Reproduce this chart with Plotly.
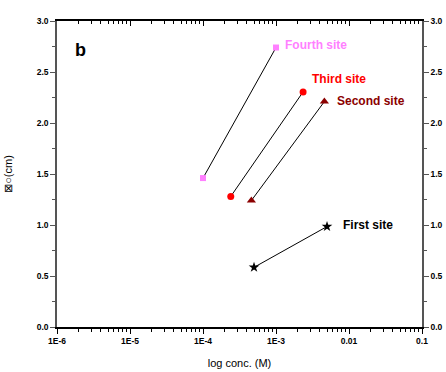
import math
import plotly.graph_objects as go

sites = ["First site", "Second site", "Third site", "Fourth site"]
conc = [[5e-4, 5e-3], [4.6e-4, 4.6e-3], [2.4e-4, 2.35e-3], [1e-4, 1e-3]]
values = [[0.585, 0.985], [1.24, 2.21], [1.28, 2.305], [1.46, 2.74]]
colors = ["#000000", "#8B0000", "#FF0000", "#FF80FF"]
symbols = ["star", "triangle-up", "circle", "square"]
sizes = [8, 8, 7, 6]
x_ticks = [1e-6, 1e-5, 1e-4, 1e-3, 1e-2, 1e-1]
x_ticktext = ["1E-6", "1E-5", "1E-4", "1E-3", "0.01", "0.1"]
y_ticks = [0.0, 0.5, 1.0, 1.5, 2.0, 2.5, 3.0]
y_ticktext = ["0.0", "0.5", "1.0", "1.5", "2.0", "2.5", "3.0"]

label_shift = [(14, 2), (11, 1), (7, 13), (7, 3)]

fig = go.Figure()
for i, s in enumerate(sites):
    fig.add_trace(go.Scatter(
        x=conc[i], y=values[i], mode="lines+markers",
        line=dict(color="black", width=1),
        marker=dict(symbol=symbols[i], size=sizes[i], color=colors[i]),
        showlegend=False, cliponaxis=False))
    dx, dy = label_shift[i]
    fig.add_annotation(x=math.log10(conc[i][1]), y=values[i][1], text="<b>%s</b>" % s,
                       showarrow=False, xanchor="left", yanchor="middle", xshift=dx, yshift=dy,
                       font=dict(family="Liberation Sans, Arial", size=12, color=colors[i]))

fig.add_trace(go.Scatter(x=[1e-6], y=[0], xaxis="x2", yaxis="y2", mode="markers",
                         marker=dict(opacity=0), showlegend=False, hoverinfo="skip"))

bold = lambda lst: ["<b>%s</b>" % t for t in lst]
tf = dict(family="Liberation Sans, Arial", size=8.5, color="black")
fig.update_layout(
    width=446, height=372,
    margin=dict(l=57, r=24, t=21, b=45, autoexpand=False),
    plot_bgcolor="white", paper_bgcolor="white",
    font=dict(family="Liberation Sans, Arial", color="black"),
    xaxis=dict(type="log", range=[-6, -1], tickvals=x_ticks, ticktext=bold(x_ticktext),
               ticks="outside", ticklen=5, tickwidth=1, tickcolor="black", automargin=False,
               showline=True, linecolor="black", linewidth=1.5, showgrid=False, zeroline=False,
               tickfont=tf,
               minor=dict(ticks="outside", ticklen=3, tickcolor="black", dtick="D1", showgrid=False),
               title=dict(text="log conc. (M)", font=dict(size=11, color="black"), standoff=14)),
    yaxis=dict(range=[0, 3], tickvals=y_ticks, ticktext=bold(y_ticktext), automargin=False,
               ticks="outside", ticklen=5, tickcolor="#555", linecolor="#555", linewidth=1.5,
               showline=True, showgrid=False, zeroline=False, tickfont=tf,
               minor=dict(ticks="outside", ticklen=3, dtick=0.25, tickcolor="#555", showgrid=False),
               title=dict(text="⊠○(cm)", font=dict(size=11, color="black"), standoff=22)),
    xaxis2=dict(type="log", range=[-6, -1], overlaying="x", side="top", anchor="y2",
                tickvals=x_ticks, ticks="inside", ticklen=5, tickcolor="black", automargin=False,
                showticklabels=False, showline=True, linecolor="black", linewidth=1.5,
                showgrid=False, zeroline=False,
                minor=dict(ticks="inside", ticklen=3, tickcolor="black", dtick="D1", showgrid=False)),
    yaxis2=dict(range=[0, 3], overlaying="y", side="right", anchor="x2", automargin=False,
                tickvals=y_ticks, ticktext=bold(y_ticktext), ticks="outside", ticklen=5,
                tickcolor="#555",
                showline=True, linecolor="#555", linewidth=1.5, showgrid=False, zeroline=False,
                tickfont=tf,
                minor=dict(ticks="outside", ticklen=3, dtick=0.25, tickcolor="#555", showgrid=False)),
)
fig.add_annotation(xref="paper", yref="paper", x=0.045, y=0.905, text="<b>b</b>", showarrow=False,
                   xanchor="left", yanchor="middle",
                   font=dict(family="Liberation Sans, Arial", size=18, color="black"))
fig.write_html("out.html")
